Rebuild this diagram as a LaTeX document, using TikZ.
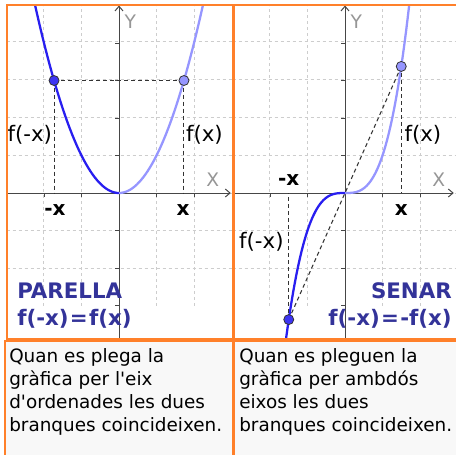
\documentclass[tikz,border=0pt]{standalone}
\usepackage{fontspec}
\setmainfont{DejaVu Sans}
\usepackage{tikz}
\usetikzlibrary{arrows.meta}
\definecolor{frameorange}{RGB}{255,128,42}
\definecolor{gridgray}{RGB}{205,205,205}
\definecolor{axisgray}{RGB}{70,70,70}
\definecolor{curvedark}{RGB}{40,30,240}
\definecolor{curvelight}{RGB}{150,150,255}
\definecolor{titleblue}{RGB}{51,51,153}
\definecolor{boxgray}{RGB}{248,248,248}
\definecolor{labelgray}{RGB}{150,150,150}

\begin{document}
\begin{tikzpicture}[x=0.75pt, y=-0.75pt,
    gridline/.style={gridgray, line width=0.75pt, dash pattern=on 2.25pt off 2.25pt},
    axisline/.style={axisgray, line width=0.75pt},
    axisarrow/.style={axisline, -{Straight Barb[length=3.5pt, width=6pt]}},
    guide/.style={black!80, line width=0.8pt, dash pattern=on 3pt off 2.25pt},
    darkbranch/.style={curvedark, line width=1.7pt},
    lightbranch/.style={curvelight, line width=1.7pt},
    dot/.style={circle, draw=black!80, line width=0.6pt, inner sep=0pt, minimum size=7.5pt},
    lbl/.style={font=\fontsize{16}{16}\selectfont, inner sep=0pt},
    xlbl/.style={lbl, font=\bfseries\fontsize{15}{15}\selectfont},
    axlbl/.style={lbl, text=labelgray, font=\fontsize{14}{14}\selectfont},
    title/.style={font=\bfseries\fontsize{16}{16}\selectfont, text=titleblue, inner sep=0pt},
    frame/.style={frameorange, line width=1.5pt},
    note/.style={font=\fontsize{13.8}{17.25}\selectfont, anchor=north west, align=left, inner sep=0pt}]
    \useasboundingbox (0,0) rectangle (456,454);
    \fill[white] (0,0) rectangle (456,454);

    % left panel: even function
    \begin{scope}[shift={(119,193)}, x=28.125pt, y=28.125pt]
        \begin{scope}
            \clip (-2.99,5.01) rectangle (3.04,-3.87);
            \draw[gridline] (-3,-3) grid (3,5);
            \draw[axisarrow] (-3,0) -- (2.98,0);
            \draw[axisarrow] (0,-3.87) -- (0,5.0);
            \foreach \t in {-2,-1,1,2} \draw[axisline] (\t,0) -- (\t,-0.11);
            \foreach \t in {-3,-2,-1,1,2,3,4} \draw[axisline] (0,\t) -- (-0.11,\t);
            \draw[darkbranch] plot[domain=-2.3:0, samples=40, smooth] (\x,{\x*\x});
            \draw[lightbranch] plot[domain=0:2.3, samples=40, smooth] (\x,{\x*\x});
        \end{scope}
        \coordinate (evenL) at (-1.732,3);
        \coordinate (evenR) at (1.732,3);
        \coordinate (evenLx) at (-1.732,0);
        \coordinate (evenRx) at (1.732,0);
        \draw[guide] (evenL) -- (evenR);
        \draw[guide] (evenL) -- (evenLx);
        \draw[guide] (evenR) -- (evenRx);
        \node[dot, fill=curvedark!90] (evenDotL) at (evenL) {};
        \node[dot, fill=curvelight] (evenDotR) at (evenR) {};
        \node[lbl, anchor=east] (evenFL) at (-1.78,1.55) {f(-x)};
        \node[lbl, anchor=west] (evenFR) at (1.78,1.55) {f(x)};
        \node[xlbl] (evenXL) at (-1.71,-0.45) {-x};
        \node[xlbl] (evenXR) at (1.71,-0.45) {x};
        \node[axlbl] (evenAX) at (2.5,0.35) {X};
        \node[axlbl] (evenAY) at (0.3,4.56) {Y};
    \end{scope}

    % right panel: odd function
    \begin{scope}[shift={(345,193)}, x=28.125pt, y=28.125pt]
        \begin{scope}
            \clip (-2.99,5.01) rectangle (3.1,-3.87);
            \draw[gridline] (-3,-3) grid (3,5);
            \draw[axisarrow] (-3,0) -- (2.9,0);
            \draw[axisarrow] (0,-3.87) -- (0,5.0);
            \foreach \t in {-2,-1,1,2} \draw[axisline] (\t,0) -- (\t,-0.11);
            \foreach \t in {-3,-2,-1,1,2,3,4} \draw[axisline] (0,\t) -- (-0.11,\t);
            \draw[darkbranch] plot[domain=-1.62:0, samples=40, smooth] (\x,{\x*\x*\x});
            \draw[lightbranch] plot[domain=0:1.75, samples=40, smooth] (\x,{\x*\x*\x});
        \end{scope}
        \coordinate (oddL) at (-1.5,-3.375);
        \coordinate (oddR) at (1.5,3.375);
        \coordinate (oddLx) at (-1.5,0);
        \coordinate (oddRx) at (1.5,0);
        \draw[guide] (oddL) -- (oddR);
        \draw[guide] (oddL) -- (oddLx);
        \draw[guide] (oddR) -- (oddRx);
        \node[dot, fill=curvedark!90] (oddDotL) at (oddL) {};
        \node[dot, fill=curvelight] (oddDotR) at (oddR) {};
        \node[lbl, anchor=east] (oddFL) at (-1.63,-1.31) {f(-x)};
        \node[lbl, anchor=west] (oddFR) at (1.58,1.55) {f(x)};
        \node[xlbl] (oddXL) at (-1.5,0.35) {-x};
        \node[xlbl] (oddXR) at (1.5,-0.45) {x};
        \node[axlbl] (oddAX) at (2.5,0.35) {X};
        \node[axlbl] (oddAY) at (0.3,4.56) {Y};
    \end{scope}

    % frames
    \draw[frame] (6.5,5) rectangle (233,339);
    \draw[frame] (234,5) rectangle (460,339);

    % titles
    \node[title, anchor=west] (evenName) at (17,291) {PARELLA};
    \node[title, anchor=west] (evenRule) at (17,319) {f(-x)\kern1pt=\kern1pt f(x)};
    \node[title, anchor=east] (oddName) at (452,291) {SENAR};
    \node[title, anchor=east] (oddRule) at (452,319) {f(-x)\kern1pt=\kern1pt-f(x)};

    % explanation boxes
    \filldraw[frame, fill=boxgray] (4.5,340.5) rectangle (232.5,460);
    \filldraw[frame, fill=boxgray] (233.5,340.5) rectangle (460,460);
    \node[note] (evenNote) at (9,348) {Quan es plega la\\gràfica per l\textquotesingle eix\\d\textquotesingle ordenades les dues\\branques coincideixen.};
    \node[note] (oddNote) at (239,348) {Quan es pleguen la\\gràfica per ambdós\\eixos les dues\\branques coincideixen.};
\end{tikzpicture}
\end{document}
